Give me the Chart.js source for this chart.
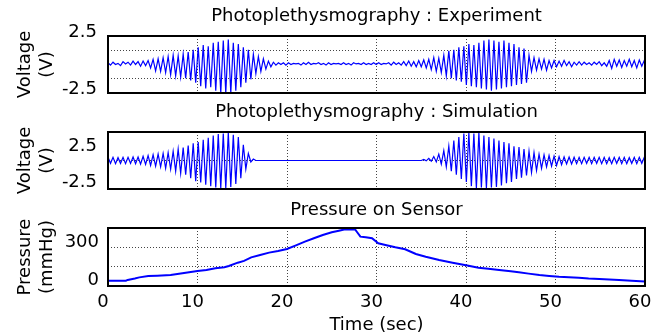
<!DOCTYPE html>
<html>
<head>
<meta charset="utf-8">
<script src="https://cdn.jsdelivr.net/npm/chart.js@4.4.0/dist/chart.umd.min.js"></script>
<style>
  body { margin: 0; background: #fff; }
  #marco { position: relative; width: 656px; height: 336px; overflow: hidden; background: #fff; }
  canvas { position: absolute; left: 0; }
</style>
</head>
<body>
<div id="marco">
  <canvas id="experimento" width="656" height="100" style="top:0px"></canvas>
  <canvas id="simulacion" width="656" height="100" style="top:96px"></canvas>
  <canvas id="presion" width="656" height="144" style="top:192px"></canvas>
</div>
<script>
// muestras pico / valle cada pasoPPG segundos
const pasoPPG = 0.28;

const ppgExperimento = [
  0.15, -0.05, 0.2, 0, 0.1, -0.1, 0.25, 0.05, 0.2, -0.05, 0.3, 0, 0.25, -0.15, 0.3, -0.1, 0.35, -0.3,
  0.45, -0.55, 0.5, -0.6, 0.6, -0.7, 0.7, -0.9, 0.8, -1.0, 0.75, -1.1, 0.9, -1.2, 1.1, -1.4, 1.3, -1.6,
  1.5, -1.9, 1.7, -2.1, 1.6, -2.0, 1.9, -2.3, 2.0, -2.5, 2.1, -2.5, 2.2, -2.5, 1.9, -2.3, 1.8, -2.0,
  1.5, -1.6, 1.3, -1.3, 0.9, -0.8, 0.7, -0.6, 0.5, -0.4, 0.3, -0.2, 0.2, -0.05, 0.15, 0, 0.15, -0.05,
  0.15, 0, 0.1, 0.05, 0.1, -0.05, 0.15, 0, 0.2, 0, 0.1, 0.05, 0.15, 0, 0.1, -0.05, 0.15, 0,
  0.1, 0.05, 0.1, 0, 0.15, 0, 0.1, -0.05, 0.15, 0.05, 0.1, 0, 0.15, 0, 0.1, 0, 0.15, 0,
  0.15, 0, 0.1, 0.05, 0.15, -0.05, 0.2, 0, 0.15, -0.05, 0.25, -0.1, 0.3, -0.15, 0.25, -0.2, 0.35, -0.2,
  0.4, -0.3, 0.45, -0.45, 0.6, -0.6, 0.55, -0.7, 0.8, -1.0, 1.2, -1.2, 1.3, -1.4, 1.5, -1.5, 1.6, -1.8,
  1.8, -1.9, 1.7, -2.0, 1.9, -2.1, 2.1, -2.2, 2.2, -2.3, 2.1, -2.2, 2.0, -2.1, 2.1, -2.0, 1.9, -1.9,
  1.8, -1.8, 1.5, -1.7, 1.4, -1.6, 0.8, -0.6, 0.6, -0.5, 0.5, -0.4, 0.45, -0.5, 0.35, -0.3, 0.35, -0.2,
  0.3, -0.15, 0.35, -0.1, 0.25, -0.2, 0.2, -0.05, 0.25, -0.05, 0.2, 0, 0.15, -0.05, 0.2, 0, 0.25, -0.1,
  0.15, -0.15, 0.35, -0.35, 0.45, -0.15, 0.4, -0.25, 0.35, -0.15, 0.45, -0.2, 0.35, -0.3, 0.4, -0.15, 0.35, -0.1
];

const ppgSimulacion = [
  0.45, -0.4, 0.45, -0.45, 0.4, -0.4, 0.45, -0.45, 0.45, -0.4, 0.5, -0.45, 0.5, -0.5, 0.6, -0.55, 0.7, -0.7,
  0.8, -0.8, 0.9, -0.9, 1.0, -1.1, 1.1, -1.2, 1.3, -1.5, 1.6, -1.8, 1.8, -2.0, 2.1, -2.5, 2.4, -2.9,
  2.6, -3.1, 2.9, -3.4, 3.2, -3.6, 3.5, -3.8, 3.7, -3.9, 3.8, -3.9, 3.9, -3.7, 3.6, -3.3, 3.3, -2.5,
  2.2, -1.2, 1.0, -0.2, 0.2, 0, 0, 0, 0, 0, 0, 0, 0, 0, 0, 0, 0, 0,
  0, 0, 0, 0, 0, 0, 0, 0, 0, 0, 0, 0, 0, 0, 0, 0, 0, 0,
  0, 0, 0, 0, 0, 0, 0, 0, 0, 0, 0, 0, 0, 0, 0, 0, 0, 0,
  0, 0, 0, 0, 0, 0, 0, 0, 0, 0, 0, 0, 0, 0, 0, 0, 0, 0,
  0.15, -0.05, 0.3, -0.1, 0.55, -0.2, 0.9, -0.5, 1.4, -0.9, 2.0, -1.5, 2.8, -2.0, 3.3, -2.6, 3.8, -3.0,
  3.9, -3.6, 3.8, -3.9, 3.9, -3.8, 3.5, -3.9, 3.3, -3.8, 3.1, -3.7, 2.8, -3.5, 2.6, -3.2, 2.4, -3.0,
  2.0, -2.6, 1.9, -2.4, 1.6, -2.1, 1.3, -1.7, 1.1, -1.4, 0.9, -1.1, 0.8, -0.9, 0.7, -0.8, 0.6, -0.7,
  0.55, -0.6, 0.5, -0.5, 0.5, -0.5, 0.45, -0.45, 0.45, -0.45, 0.45, -0.4, 0.45, -0.45, 0.45, -0.4, 0.45, -0.45,
  0.45, -0.45, 0.4, -0.45, 0.45, -0.4, 0.45, -0.45, 0.45, -0.45, 0.4, -0.4, 0.45, -0.45, 0.45, -0.4, 0.45, -0.45
];

const tiempoPresion = [0, 1, 2, 2.2, 3, 3.5, 4.5, 5.5, 7, 8.5, 10, 11, 12, 13, 13.5, 14.5, 15.2, 16, 17, 18,
  19, 20, 21, 22, 23, 24, 25, 25.8, 26.5, 27.2, 27.6, 27.8, 28.2, 28.8, 29.5, 30.2, 31, 32.1, 33.2, 34.4,
  35.5, 37, 38.5, 40, 41.4, 42.5, 43.7, 45, 45.9, 47, 48.2, 49.3, 50.4, 51.5, 52.6, 53.7, 54.9, 56, 57.1, 58.5, 60];
const presion = [41, 40, 41, 47, 58, 67, 78, 80, 85, 100, 116, 125, 137, 145, 155, 181, 195, 222, 240, 259,
  272, 287, 315, 344, 370, 396, 417, 429, 440, 438, 440, 421, 383, 378, 370, 331, 318, 300, 285, 248,
  227, 202, 181, 161, 142, 133, 124, 114, 106, 96, 85, 78, 72, 68, 64, 58, 54, 50, 47, 40, 34];

// ticks de los ejes
const ticksTiempo = [0, 10, 20, 30, 40, 50, 60];
const ticksExp = [-2.5, -1.25, 1.25, 2.5];
const etiquetasExp = ["-2.5", "", "", "2.5"];
const ticksSim = [-2.5, 0, 2.5];
const etiquetasSim = ["-2.5", "", "2.5"];
const ticksPresion = [0, 150, 300, 450];
const etiquetasPresion = ["0", "", "300", ""];

Chart.defaults.font.family = "'DejaVu Sans', sans-serif";
Chart.defaults.font.size = 18;
Chart.defaults.color = "#000";
Chart.defaults.animation = false;

const colorRejilla = "#444";
const transparente = "rgba(0,0,0,0)";

// recuadro negro alrededor del area de datos
const recuadro = {
  id: "recuadro",
  afterDatasetsDraw(chart) {
    const { ctx, chartArea } = chart;
    ctx.save();
    ctx.strokeStyle = "#000";
    ctx.lineWidth = 2;
    ctx.strokeRect(chartArea.left, chartArea.top, chartArea.right - chartArea.left, chartArea.bottom - chartArea.top);
    ctx.restore();
  },
};

function ejeTiempo(conEtiquetas) {
  return {
    type: "linear",
    min: 0,
    max: 60,
    afterBuildTicks: (eje) => { eje.ticks = ticksTiempo.map((v) => ({ value: v })); },
    grid: {
      drawTicks: false,
      color: (c) => (c.tick && c.tick.value > 0 && c.tick.value < 60 ? colorRejilla : transparente),
    },
    border: { display: false, dash: [1, 2] },
    ticks: { display: conEtiquetas, autoSkip: false, maxRotation: 0, padding: 6, labelOffset: -5, callback: (v) => String(v) },
    title: { display: conEtiquetas, text: "Time (sec)", padding: { top: 0, bottom: 0 } },
    afterFit: (eje) => {
      eje.height = conEtiquetas ? 50 : 0;
      eje.paddingLeft = 0;
      eje.paddingRight = 0;
    },
  };
}

// eje superior solo para el titulo, centrado sobre el area de datos
function ejeTitulo(texto, padArriba) {
  return {
    type: "linear",
    position: "top",
    min: 0,
    max: 60,
    grid: { display: false, drawTicks: false },
    border: { display: false },
    ticks: { display: false },
    title: { display: true, text: texto, padding: { top: padArriba, bottom: 0 } },
    afterFit: (eje) => {
      eje.height = 36;
      eje.paddingLeft = 0;
      eje.paddingRight = 0;
    },
  };
}

function ejeValor(min, max, ticks, etiquetas, rejilla, titulo, pad, desplazamiento) {
  return {
    type: "linear",
    min: min,
    max: max,
    afterBuildTicks: (eje) => { eje.ticks = ticks.map((v) => ({ value: v })); },
    grid: {
      drawTicks: false,
      color: (c) => (c.tick && rejilla.includes(c.tick.value) ? colorRejilla : transparente),
    },
    border: { display: false, dash: [1, 2] },
    ticks: {
      autoSkip: false,
      padding: pad,
      labelOffset: desplazamiento,
      callback: (v) => etiquetas[ticks.indexOf(v)] || "",
    },
    title: {
      display: true,
      text: titulo,
      font: { size: 18, lineHeight: 1.25 },
      padding: { top: 14, bottom: 0 },
    },
    afterFit: (eje) => {
      eje.width = 108;
      eje.paddingTop = 0;
      eje.paddingBottom = 0;
    },
  };
}

function crearPanel(idCanvas, titulo, padTitulo, puntos, grosor, ejeY, conTiempo, abajo) {
  let ctx = document.getElementById(idCanvas).getContext("2d");
  return new Chart(ctx, {
    type: "line",
    data: {
      datasets: [
        {
          data: puntos,
          borderColor: "#0000ff",
          borderWidth: grosor,
          pointRadius: 0,
          tension: 0,
          fill: false,
        },
      ],
    },
    options: {
      responsive: false,
      animation: false,
      layout: { padding: { left: 0, right: 11, top: 0, bottom: abajo } },
      scales: { x: ejeTiempo(conTiempo), arriba: ejeTitulo(titulo, padTitulo), y: ejeY },
      plugins: {
        legend: { display: false },
        tooltip: { enabled: false },
        title: { display: false },
      },
    },
    plugins: [recuadro],
  });
}

let puntosExp = ppgExperimento.map((v, i) => ({ x: i * pasoPPG, y: v }));
let puntosSim = ppgSimulacion.map((v, i) => ({ x: i * pasoPPG, y: v }));
let puntosPresion = presion.map((v, i) => ({ x: tiempoPresion[i], y: v }));

crearPanel("experimento", "Photoplethysmography : Experiment", 6, puntosExp, 1.2,
  ejeValor(-2.5, 2.5, ticksExp, etiquetasExp, [-1.25, 1.25], ["Voltage", "(V)"], 11, -4), false, 7);

crearPanel("simulacion", "Photoplethysmography : Simulation", 6, puntosSim, 1.2,
  ejeValor(-4, 4, ticksSim, etiquetasSim, [0], ["Voltage", "(V)"], 11, 4), false, 7);

crearPanel("presion", "Pressure on Sensor", 7.5, puntosPresion, 2,
  ejeValor(0, 450, ticksPresion, etiquetasPresion, [150, 300], ["Pressure", "(mmHg)"], 9, -5.5), true, 0);
</script>
</body>
</html>
